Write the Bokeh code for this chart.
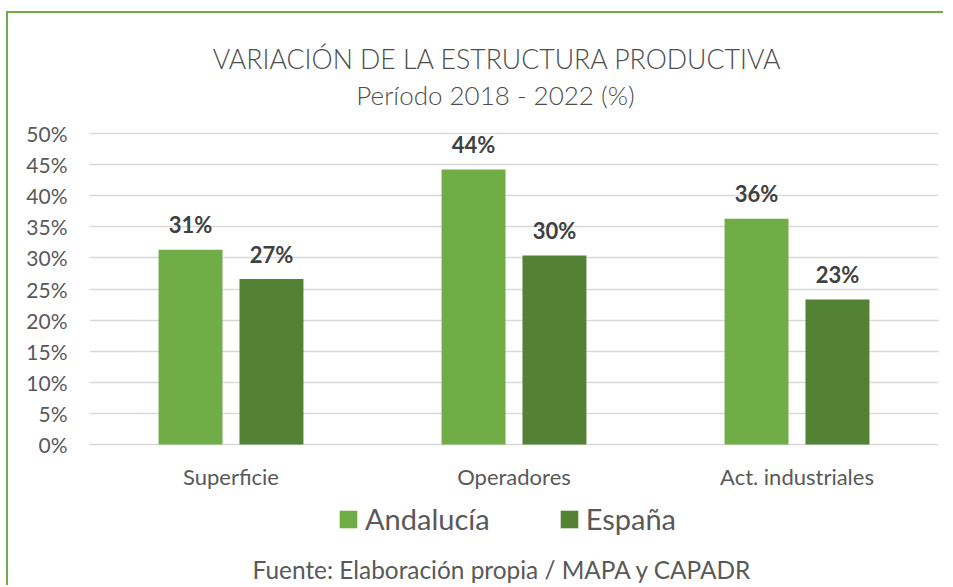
from bokeh.plotting import figure
from bokeh.models import (Range1d, FixedTicker, PrintfTickFormatter, Label,
                          Legend, LegendItem, ColumnDataSource)
from bokeh.transform import dodge
from bokeh.core.properties import value
from bokeh.embed import file_html
from bokeh.resources import INLINE

# ---- data ----
categories = ["Superficie", "Operadores", "Act. industriales"]
andalucia = [31.3, 44.2, 36.3]
espana = [26.6, 30.4, 23.3]
series_names = ["Andalucía", "España"]
y_ticks = [0, 5, 10, 15, 20, 25, 30, 35, 40, 45, 50]
title_text = "VARIACIÓN DE LA ESTRUCTURA PRODUCTIVA"
subtitle_text = "Período 2018 - 2022 (%)"
source_text = "Fuente: Elaboración propia / MAPA y CAPADR"

FONT = "Lato"
LIGHT = "Lato Light, Lato"
C_AND = "#70AD47"
C_ESP = "#548235"
TXT = "#595959"
TXT_LIGHT = "#4d4d4d"

# layout (pixels)
W, H = 937, 574
B_LEFT, B_RIGHT, B_TOP, B_BOTTOM = 81, 7, 20, 0
PX_PER_UNIT = 311 / 50        # 0..50 % spans 311 px
ZERO_FROM_TOP = 411           # px from frame top to the 0 % line
frame_h = H - B_TOP - B_BOTTOM
y_end = ZERO_FROM_TOP / PX_PER_UNIT
y_start = -(frame_h - ZERO_FROM_TOP) / PX_PER_UNIT

src = ColumnDataSource(dict(
    cat=categories,
    andalucia=andalucia,
    espana=espana,
    lab_and=[f"{v:.0f}%" for v in andalucia],
    lab_esp=[f"{v:.0f}%" for v in espana],
))

p = figure(x_range=categories, y_range=Range1d(y_start, y_end), width=W, height=H,
           output_backend="svg", toolbar_location=None, title=None,
           min_border_left=B_LEFT, min_border_right=B_RIGHT,
           min_border_top=B_TOP, min_border_bottom=B_BOTTOM)
p.styles = {"margin": "11px 8px 0px 6px",
            "border-top": "2px solid #70AD47", "border-left": "2px solid #70AD47"}
p.outline_line_color = None
p.background_fill_color = "white"
p.border_fill_color = "white"

off = 0.143
w = 0.226
r1 = p.vbar(x=dodge("cat", -off, range=p.x_range), top="andalucia", width=w,
            source=src, fill_color=C_AND, line_color=None)
r2 = p.vbar(x=dodge("cat", off, range=p.x_range), top="espana", width=w,
            source=src, fill_color=C_ESP, line_color=None)

for xo, col, ycol in [(-off, "lab_and", "andalucia"), (off, "lab_esp", "espana")]:
    p.text(x=dodge("cat", xo, range=p.x_range), y=ycol, text=col, source=src,
           text_align="center", text_baseline="middle", y_offset=-25,
           text_font=value(FONT), text_font_style="bold",
           text_font_size="22px", text_color="#404040")

# axes
p.yaxis.ticker = FixedTicker(ticks=y_ticks)
p.yaxis.formatter = PrintfTickFormatter(format="%d%%")
p.yaxis.axis_line_color = None
p.yaxis.major_tick_line_color = None
p.yaxis.minor_tick_line_color = None
p.yaxis.major_tick_out = 0
p.yaxis.major_label_standoff = 22
p.yaxis.major_label_text_font = FONT
p.yaxis.major_label_text_font_size = "21px"
p.yaxis.major_label_text_color = TXT

p.xaxis.fixed_location = 0
p.xaxis.axis_line_color = None
p.xaxis.major_tick_line_color = None
p.xaxis.major_tick_out = 0
p.xaxis.major_label_standoff = 18
p.xaxis.major_label_text_font = FONT
p.xaxis.major_label_text_font_size = "22px"
p.xaxis.major_label_text_color = TXT

p.xgrid.grid_line_color = None
p.ygrid.grid_line_color = "#D9D9D9"
p.ygrid.grid_line_width = 1.5

# titles and source (screen px from the frame's bottom-left corner)
p.add_layout(Label(x=408, y=529, x_units="screen", y_units="screen",
                   text=title_text, text_align="center", text_baseline="middle",
                   text_font=LIGHT, text_font_size="26.7px", text_color=TXT_LIGHT))
p.add_layout(Label(x=406, y=493, x_units="screen", y_units="screen",
                   text=subtitle_text, text_align="center", text_baseline="middle",
                   text_font=LIGHT, text_font_size="26px", text_color=TXT_LIGHT))
p.add_layout(Label(x=413, y=18, x_units="screen", y_units="screen",
                   text=source_text, text_align="center", text_baseline="middle",
                   text_font=FONT, text_font_size="24.4px", text_color=TXT))

legend = Legend(items=[LegendItem(label=series_names[0], renderers=[r1]),
                       LegendItem(label=series_names[1], renderers=[r2])],
                orientation="horizontal", location=(248, 51),
                glyph_width=22, glyph_height=22, label_standoff=6, spacing=68,
                padding=0, margin=0, border_line_color=None,
                background_fill_alpha=0,
                label_text_font=FONT, label_text_font_size="29px",
                label_text_color=TXT)
p.add_layout(legend, "center")

open("out.html", "w").write(file_html(p, INLINE))
